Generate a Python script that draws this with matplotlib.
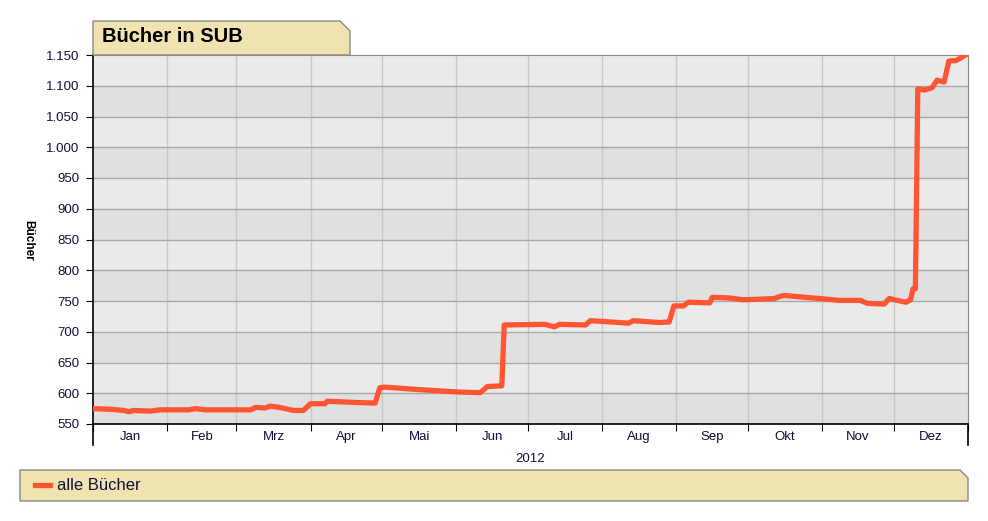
import pandas as pd
import matplotlib
matplotlib.use("Agg")
import matplotlib.pyplot as plt
from matplotlib.patches import Polygon
from matplotlib.lines import Line2D

plt.rcParams['font.family'] = ['Liberation Sans', 'DejaVu Sans']

# Bestand "alle Bücher" 2012
dates = ["2012-01-01", "2012-01-08", "2012-01-14", "2012-01-16", "2012-01-18",
         "2012-01-25", "2012-01-29", "2012-02-10", "2012-02-13", "2012-02-17",
         "2012-03-07", "2012-03-09", "2012-03-13", "2012-03-15", "2012-03-19",
         "2012-03-25", "2012-03-29", "2012-04-01", "2012-04-07", "2012-04-08",
         "2012-04-20", "2012-04-28", "2012-04-30", "2012-05-02", "2012-05-16",
         "2012-06-02", "2012-06-11", "2012-06-14", "2012-06-20", "2012-06-21",
         "2012-07-08", "2012-07-12", "2012-07-14", "2012-07-25", "2012-07-27",
         "2012-08-04", "2012-08-12", "2012-08-14", "2012-08-25", "2012-08-29",
         "2012-08-31", "2012-09-04", "2012-09-06", "2012-09-15", "2012-09-16",
         "2012-09-23", "2012-09-29", "2012-10-06", "2012-10-12", "2012-10-14",
         "2012-10-16", "2012-10-31", "2012-11-08", "2012-11-17", "2012-11-20",
         "2012-11-27", "2012-11-29", "2012-12-06", "2012-12-08", "2012-12-09",
         "2012-12-10", "2012-12-11", "2012-12-14", "2012-12-17", "2012-12-19",
         "2012-12-22", "2012-12-24", "2012-12-27", "2012-12-31"]
buecher = [575, 574, 572, 570, 572,
           571, 573, 573, 575, 573,
           573, 577, 576, 579, 577,
           572, 572, 583, 583, 587,
           585, 584, 609, 610, 606,
           602, 601, 611, 612, 711,
           712, 708, 712, 711, 718,
           716, 714, 718, 715, 716,
           742, 742, 748, 747, 756,
           755, 752, 753, 754, 757,
           759, 754, 751, 751, 746,
           745, 754, 748, 752, 770,
           770, 1095, 1093, 1097, 1109,
           1106, 1140, 1141, 1150]
monate = ["Jan", "Feb", "Mrz", "Apr", "Mai", "Jun", "Jul", "Aug", "Sep", "Okt", "Nov", "Dez"]
y_ticks = list(range(550, 1151, 50))

x = pd.to_datetime(dates)
W, H = 988, 521
fig = plt.figure(figsize=(W / 100, H / 100), dpi=100)
ax = fig.add_axes([93 / W, 1 - 424 / H, 875 / W, 369 / H])

start = pd.Timestamp("2012-01-01")
end = pd.Timestamp("2013-01-01")
ax.set_xlim(start, end)
ax.set_ylim(550, 1150)

# Hintergrundbänder
for i, lo in enumerate(y_ticks[:-1]):
    ax.axhspan(lo, lo + 50, color='#e0e0e0' if i % 2 == 0 else '#eaeaea', lw=0, zorder=0)

month_starts = pd.date_range("2012-01-01", periods=13, freq="MS")
mids = [month_starts[i] + (month_starts[i + 1] - month_starts[i]) / 2 for i in range(12)]
ax.set_xticks(month_starts)
ax.set_xticklabels([])
ax.set_xticks(mids, minor=True)
ax.set_xticklabels(monate, minor=True)
ax.tick_params(axis='x', which='minor', length=0, pad=5, labelsize=9.5, labelcolor='#10103a')
ax.tick_params(axis='x', which='major', length=5, direction='out', color='black')
ax.set_yticks(y_ticks)
ax.set_yticklabels([f"{v:,}".replace(",", ".") for v in y_ticks])
ax.tick_params(axis='y', length=5, direction='out', color='black', labelsize=9.5,
               labelcolor='#10103a', pad=5)

for d in month_starts[1:-1]:
    ax.axvline(d, color='#c8c8c8', lw=1, zorder=1)
for v in y_ticks[1:-1]:
    ax.axhline(v, color='#a8a8a8', lw=1, zorder=1)

ax.plot(x, buecher, color='#ff5533', lw=3.8, solid_joinstyle='round', zorder=3)

for s in ['top', 'right']:
    ax.spines[s].set_color('#888888')
for s in ['left', 'bottom']:
    ax.spines[s].set_color('black')
    ax.spines[s].set_linewidth(1.2)

# verlängerte Achsenlinien unten
for xa in (0, 1):
    ax.add_line(Line2D([xa, xa], [0, -21 / 369], transform=ax.transAxes,
                       color='black', lw=1.2, clip_on=False))

ax.text(0.5, -29 / 369, "2012", transform=ax.transAxes, ha='center', va='top',
        fontsize=9.5, color='#10103a')
fig.text(28 / W, 1 - 240 / H, "Bücher", rotation=270, ha='center', va='center',
         fontsize=8.5, fontweight='bold')


def fig_poly(pts, **kw):
    fig.add_artist(Polygon([(px / W, 1 - py / H) for px, py in pts],
                           closed=True, transform=fig.transFigure, **kw))


# Titelbox
fig_poly([(93, 55), (93, 21), (340, 21), (350, 31), (350, 55)],
         facecolor='#efe3b0', edgecolor='#888888', lw=1)
fig.text(102 / W, 1 - 37 / H, "Bücher in SUB", ha='left', va='center',
         fontsize=14.5, fontweight='bold', color='black')

# Legendenbox
fig_poly([(20, 501), (20, 470), (960, 470), (968, 478), (968, 501)],
         facecolor='#efe3b0', edgecolor='#888888', lw=1)
fig.add_artist(Line2D([35 / W, 50 / W], [1 - 485 / H, 1 - 485 / H],
                      transform=fig.transFigure, color='#ff5533', lw=3.8))
fig.text(57 / W, 1 - 485 / H, "alle Bücher", ha='left', va='center',
         fontsize=12, color='#10103a')

fig.savefig("out.png", dpi=100)
